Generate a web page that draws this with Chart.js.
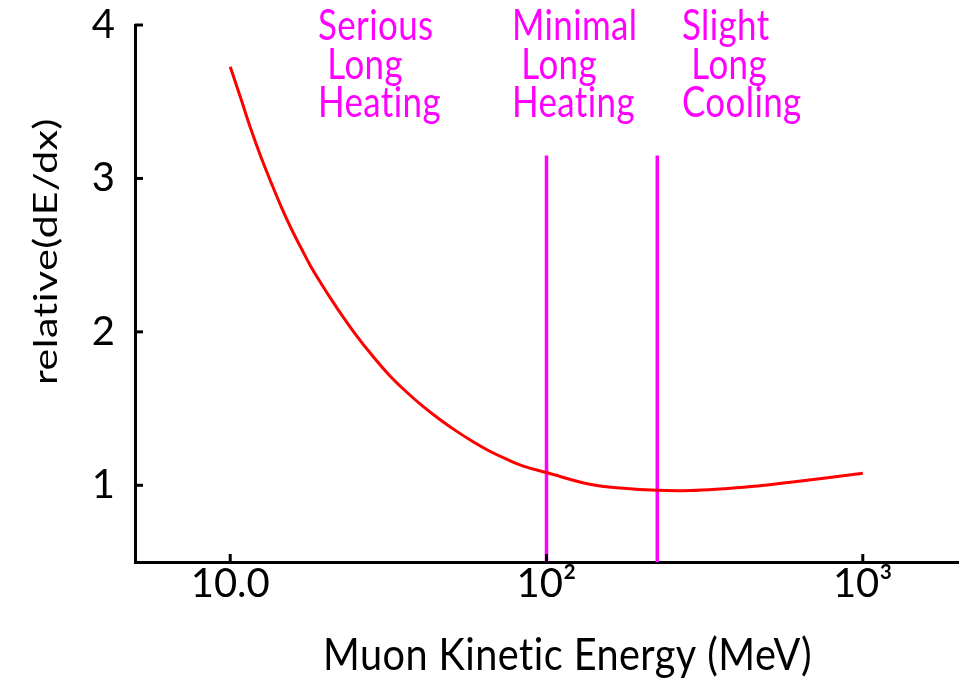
<!DOCTYPE html>
<html>
<head>
<meta charset="utf-8">
<script src="https://cdn.jsdelivr.net/npm/chart.js@4.4.1/dist/chart.umd.min.js"></script>
<style>
  html, body { margin: 0; padding: 0; background: #fff; }
  #wrap { width: 969px; height: 681px; position: relative; }
</style>
</head>
<body>
<div id="wrap"><canvas id="dedxChart"></canvas></div>
<script>
// muon kinetic energy (MeV) and relative dE/dx
var energy = [10, 10.8, 11.6, 12.5, 13.5, 14.5, 15.6, 16.8, 18, 19.4, 20.9, 22.2, 25, 28.3, 31.9,
              36.1, 40.7, 46, 51.9, 58.6, 66.2, 74.8, 84.5, 100, 137, 175, 224, 285, 363, 465,
              591, 752, 1000];
var dedx = [3.728, 3.522, 3.327, 3.141, 2.968, 2.815, 2.672, 2.542, 2.425, 2.314, 2.21, 2.129,
            1.979, 1.839, 1.716, 1.608, 1.514, 1.429, 1.353, 1.284, 1.222, 1.17, 1.125, 1.083,
            1.007, 0.98, 0.967, 0.966, 0.978, 0.995, 1.02, 1.046, 1.078];

// region boundaries (vertical lines)
var boundaries = [100, 224];
var boundaryTop = 3.15;

var xTicks = [10, 100, 1000];
var xTickLabels = ['10.0', '10\u00B2', '10\u00B3'];
var yTicks = [1, 2, 3, 4];

var regionLabels = [
    ['Serious', ' Long', 'Heating'],
    ['Minimal', ' Long', 'Heating'],
    ['Slight', ' Long', 'Cooling']
];

var FONT = "Lato, 'DejaVu Sans', sans-serif";
var MAGENTA = '#ff00ff';

var datasets = [{
    data: energy.map(function (e, i) { return { x: e, y: dedx[i] }; }),
    borderColor: '#ff0000',
    borderWidth: 3,
    pointRadius: 0,
    tension: 0.4,
    fill: false
}];
boundaries.forEach(function (b) {
    datasets.push({
        data: [{ x: b, y: 0.5 }, { x: b, y: boundaryTop }],
        borderColor: MAGENTA,
        borderWidth: 3.5,
        pointRadius: 0,
        fill: false
    });
});

// draws text squeezed to a given width (the reference lettering is narrow)
function squeezed(ctx, text, x, y, width) {
    var w = ctx.measureText(text).width;
    ctx.save();
    ctx.translate(x, y);
    ctx.scale(width / w, 1);
    ctx.fillText(text, 0, 0);
    ctx.restore();
}

// inward tick marks, axis titles and region text
var extras = {
    id: 'extras',
    afterDraw: function (chart) {
        var ctx = chart.ctx;
        var xs = chart.scales.x, ys = chart.scales.y;
        var area = chart.chartArea;
        ctx.save();
        ctx.strokeStyle = '#000';
        ctx.lineWidth = 3;
        yTicks.forEach(function (v) {
            var py = ys.getPixelForValue(v);
            ctx.beginPath();
            ctx.moveTo(area.left, py);
            ctx.lineTo(area.left + 8, py);
            ctx.stroke();
        });
        xTicks.forEach(function (v) {
            var px = xs.getPixelForValue(v);
            ctx.beginPath();
            ctx.moveTo(px, area.bottom);
            ctx.lineTo(px, area.bottom - 8);
            ctx.stroke();
        });

        // a little letter spacing keeps Lato from joining "ti"
        if ('letterSpacing' in ctx) ctx.letterSpacing = '0.5px';

        // region text, left aligned blocks
        ctx.fillStyle = MAGENTA;
        ctx.font = '43px ' + FONT;
        ctx.textAlign = 'left';
        ctx.textBaseline = 'alphabetic';
        var k = 123 / ctx.measureText('Heating').width;
        var lefts = [318, 512, 682];
        var baselines = [40, 79, 117];
        regionLabels.forEach(function (lines, i) {
            lines.forEach(function (t, j) {
                ctx.save();
                ctx.translate(lefts[i], baselines[j]);
                ctx.scale(k, 1);
                ctx.fillText(t, 0, 0);
                ctx.restore();
            });
        });

        // axis titles
        ctx.fillStyle = '#000';
        ctx.font = '45px ' + FONT;
        squeezed(ctx, 'Muon Kinetic Energy (MeV)', 323, 670, 489);

        ctx.font = '42px ' + FONT;
        var yt = 'relative(dE/dx)';
        var len = ctx.measureText(yt).width;
        ctx.translate(57, 385);
        ctx.rotate(-Math.PI / 2);
        ctx.scale(267 / len, 0.8);
        ctx.fillText(yt, 0, 0);
        ctx.restore();
    }
};

Chart.defaults.font.family = FONT;
Chart.defaults.color = '#000';

var ctx = document.getElementById('dedxChart').getContext('2d');
var dedxChart = new Chart(ctx, {
    type: 'line',
    data: { datasets: datasets },
    options: {
        responsive: true,
        maintainAspectRatio: false,
        animation: false,
        layout: { padding: { top: 25, right: 11, left: 0, bottom: 0 } },
        plugins: {
            legend: { display: false },
            tooltip: { enabled: false }
        },
        scales: {
            x: {
                type: 'logarithmic',
                min: 5,
                max: 2000,
                grid: { display: false, drawTicks: false },
                border: { display: true, width: 3, color: '#000' },
                afterBuildTicks: function (scale) {
                    scale.ticks = xTicks.map(function (v) { return { value: v }; });
                },
                afterFit: function (scale) {
                    scale.height = 119;
                    scale.paddingLeft = 0;
                    scale.paddingRight = 0;
                },
                ticks: {
                    autoSkip: false,
                    maxRotation: 0,
                    padding: -2,
                    font: { size: 40 },
                    callback: function (value) {
                        var i = xTicks.indexOf(value);
                        return i >= 0 ? xTickLabels[i] : '';
                    }
                }
            },
            y: {
                min: 0.5,
                max: 4,
                grid: { display: false, drawTicks: false },
                border: { display: true, width: 3, color: '#000' },
                afterBuildTicks: function (scale) {
                    scale.ticks = yTicks.map(function (v) { return { value: v }; });
                },
                afterFit: function (scale) {
                    scale.width = 135;
                    scale.paddingTop = 0;
                    scale.paddingBottom = 0;
                },
                ticks: {
                    padding: 20,
                    font: { size: 40, lineHeight: 1 }
                }
            }
        }
    },
    plugins: [extras]
});
</script>
</body>
</html>
